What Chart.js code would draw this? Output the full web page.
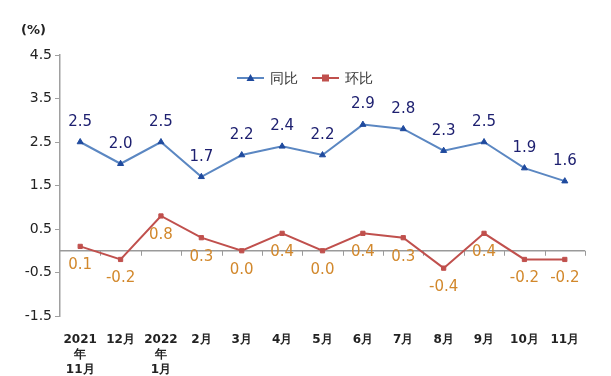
<!DOCTYPE html>
<html>
<head>
<meta charset="utf-8">
<script src="https://cdn.jsdelivr.net/npm/chart.js@4/dist/chart.umd.min.js"></script>
<style>
  html, body { margin: 0; padding: 0; background: #fff; }
  #wrap { width: 611px; height: 376px; position: relative; }
</style>
</head>
<body>
<div id="wrap"><canvas id="grafico"></canvas></div>
<script>
const meses = [['2021', '年', '11月'], '12月', ['2022', '年', '1月'], '2月', '3月', '4月', '5月', '6月', '7月', '8月', '9月', '10月', '11月'];
const tongbi = [2.5, 2.0, 2.5, 1.7, 2.2, 2.4, 2.2, 2.9, 2.8, 2.3, 2.5, 1.9, 1.6];
const huanbi = [0.1, -0.2, 0.8, 0.3, 0.0, 0.4, 0.0, 0.4, 0.3, -0.4, 0.4, -0.2, -0.2];
const ticksY = [-1.5, -0.5, 0.5, 1.5, 2.5, 3.5, 4.5];

const FONT = 'DejaVu Sans';
const AZUL = '#5b87c2', AZUL_PUNTO = '#1f4a9e', ROJO = '#c0504d';

// linea del cero con marcas entre categorias
const lineaCero = {
  id: 'lineaCero',
  beforeDatasetsDraw(chart) {
    const { ctx, chartArea, scales: { x, y } } = chart;
    const y0 = y.getPixelForValue(0);
    ctx.save();
    ctx.strokeStyle = '#9a9a9a';
    ctx.lineWidth = 1.5;
    ctx.beginPath(); ctx.moveTo(chartArea.left, y0); ctx.lineTo(chartArea.right, y0); ctx.stroke();
    ctx.lineWidth = 1;
    const paso = x.getPixelForValue(1) - x.getPixelForValue(0);
    for (let i = 0; i < meses.length; i++) {
      const px = Math.round(x.getPixelForValue(i) + paso / 2) + 0.5;
      ctx.beginPath(); ctx.moveTo(px, y0); ctx.lineTo(px, y0 + 5); ctx.stroke();
    }
    ctx.restore();
  }
};

// etiquetas de datos, unidad y leyenda
const etiquetas = {
  id: 'etiquetas',
  afterDatasetsDraw(chart) {
    const { ctx, chartArea } = chart;
    ctx.save();
    ctx.font = '15px "' + FONT + '"';
    ctx.textAlign = 'center';
    ctx.textBaseline = 'middle';
    chart.getDatasetMeta(0).data.forEach((p, i) => {
      ctx.fillStyle = '#1e2070';
      ctx.fillText(tongbi[i].toFixed(1), p.x, p.y - 20);
    });
    chart.getDatasetMeta(1).data.forEach((p, i) => {
      ctx.fillStyle = '#d2882c';
      ctx.fillText(huanbi[i].toFixed(1), p.x, p.y + 19);
    });
    ctx.font = 'bold 13px "' + FONT + '"';
    ctx.fillStyle = '#222';
    ctx.textAlign = 'left';
    ctx.fillText('(%)', chartArea.left - 39, chartArea.top - 24);

    // leyenda
    const ly = chartArea.top + 23;
    let lx = chartArea.left + 177;
    ctx.font = '14px "' + FONT + '"';
    [['同比', AZUL, AZUL_PUNTO, 'tri'], ['环比', ROJO, ROJO, 'sq']].forEach(([txt, c, m, forma]) => {
      ctx.strokeStyle = c; ctx.lineWidth = 2;
      ctx.beginPath(); ctx.moveTo(lx, ly); ctx.lineTo(lx + 27, ly); ctx.stroke();
      ctx.fillStyle = m;
      if (forma === 'tri') {
        ctx.beginPath(); ctx.moveTo(lx + 13.5, ly - 4); ctx.lineTo(lx + 17.5, ly + 3); ctx.lineTo(lx + 9.5, ly + 3); ctx.closePath(); ctx.fill();
      } else {
        ctx.fillRect(lx + 10, ly - 3.5, 7, 7);
      }
      ctx.fillStyle = '#333';
      ctx.fillText(txt, lx + 33, ly + 1);
      lx += 33 + ctx.measureText(txt).width + 14;
    });
    ctx.restore();
  }
};

new Chart(document.getElementById('grafico'), {
  type: 'line',
  data: {
    labels: meses,
    datasets: [
      {
        label: '同比', data: tongbi,
        borderColor: AZUL, borderWidth: 2,
        pointStyle: 'triangle', pointRadius: 3.5,
        pointBackgroundColor: AZUL_PUNTO, pointBorderColor: AZUL_PUNTO, pointBorderWidth: 1,
        tension: 0
      },
      {
        label: '环比', data: huanbi,
        borderColor: ROJO, borderWidth: 2,
        pointStyle: 'rect', pointRadius: 3,
        pointBackgroundColor: ROJO, pointBorderColor: ROJO, pointBorderWidth: 1,
        tension: 0
      }
    ]
  },
  options: {
    responsive: true,
    maintainAspectRatio: false,
    animation: false,
    layout: { padding: { top: 55, right: 26, left: 0, bottom: 0 } },
    plugins: {
      tooltip: { enabled: false },
      legend: { display: false }
    },
    scales: {
      x: {
        offset: true,
        border: { display: false },
        grid: { display: false },
        ticks: {
          color: '#222', padding: 8, maxRotation: 0, autoSkip: false,
          font: { family: FONT, size: 12, weight: 'bold', lineHeight: 1.25 }
        },
        afterFit: s => { s.height = 60; }
      },
      y: {
        min: -1.5, max: 4.5,
        border: { display: true, color: '#a0a0a0', width: 1.5 },
        grid: { drawOnChartArea: false, tickLength: 5, color: '#a0a0a0' },
        afterBuildTicks: s => { s.ticks = ticksY.map(v => ({ value: v })); },
        ticks: {
          color: '#222', padding: 3,
          font: { family: FONT, size: 14 },
          callback: v => Number(v).toFixed(1)
        },
        afterFit: s => { s.width = 60; }
      }
    }
  },
  plugins: [lineaCero, etiquetas]
});
</script>
</body>
</html>
